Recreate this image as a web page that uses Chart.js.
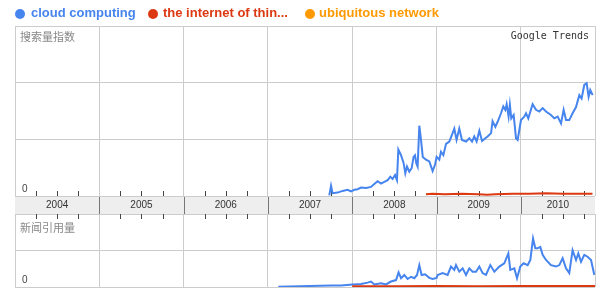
<!DOCTYPE html>
<html>
<head>
<meta charset="utf-8">
<script src="https://cdn.jsdelivr.net/npm/chart.js@4.4.1/dist/chart.umd.min.js"></script>
<style>
  body { margin: 0; background: #fff; width: 599px; height: 289px; overflow: hidden; position: relative;
         font-family: "Liberation Sans", Arial, sans-serif; }
  canvas { position: absolute; left: 0; }
  #searchChart { top: 0; }
  #newsChart { top: 214px; }
  .dot { position: absolute; top: 8.5px; width: 10px; height: 10px; border-radius: 50%; }
  .name { position: absolute; top: 5px; font-size: 13px; line-height: 15px; font-weight: bold; white-space: nowrap; }
  .cn { position: absolute; left: 20px; font-family: "Noto Sans CJK SC", sans-serif; font-size: 11px; line-height: 11px; color: #888; }
  .brand { position: absolute; top: 31px; right: 10px; font-family: "DejaVu Sans Mono", monospace; font-size: 10px; line-height: 10px; color: #333; }
</style>
</head>
<body>
<canvas id="searchChart" width="599" height="214"></canvas>
<canvas id="newsChart" width="599" height="75"></canvas>

<span class="dot" style="left:15px;background:#4684ee"></span>
<span class="name" style="left:31px;color:#4684ee">cloud computing</span>
<span class="dot" style="left:148px;background:#dc3912"></span>
<span class="name" style="left:163px;color:#dc3912">the internet of thin...</span>
<span class="dot" style="left:304.5px;background:#ff9900"></span>
<span class="name" style="left:319px;color:#ff9900">ubiquitous network</span>

<div class="cn" style="top:31px">搜索量指数</div>
<div class="brand">Google Trends</div>
<div class="cn" style="top:222px">新闻引用量</div>

<script>
// years shown in the grey band, axis end (Nov 2010)
const yearLabels = ['2004', '2005', '2006', '2007', '2008', '2009', '2010'];
const xMax = 2010.88;

// search volume index - cloud computing
const searchCloudYear = [2007.728, 2007.749, 2007.767, 2007.827, 2007.886, 2007.945, 2007.986, 2008.025, 2008.064, 2008.104,
  2008.164, 2008.223, 2008.262, 2008.301, 2008.342, 2008.381, 2008.420, 2008.452, 2008.479, 2008.508,
  2008.531, 2008.547, 2008.579, 2008.610, 2008.630, 2008.650, 2008.677, 2008.705, 2008.728, 2008.745,
  2008.760, 2008.776, 2008.796, 2008.816, 2008.837, 2008.875, 2008.915, 2008.954, 2008.982, 2009.001,
  2009.033, 2009.053, 2009.081, 2009.113, 2009.152, 2009.191, 2009.211, 2009.238, 2009.270, 2009.302,
  2009.350, 2009.389, 2009.421, 2009.448, 2009.476, 2009.508, 2009.540, 2009.579, 2009.606, 2009.647,
  2009.665, 2009.698, 2009.725, 2009.765, 2009.792, 2009.816, 2009.832, 2009.855, 2009.870, 2009.887,
  2009.915, 2009.943, 2009.962, 2009.982, 2010.002, 2010.041, 2010.062, 2010.089, 2010.140, 2010.180,
  2010.219, 2010.259, 2010.299, 2010.358, 2010.397, 2010.437, 2010.477, 2010.508, 2010.536, 2010.575,
  2010.614, 2010.655, 2010.694, 2010.721, 2010.753, 2010.781, 2010.804, 2010.824, 2010.852];
const searchCloud = [0.01, 0.18, 0.05, 0.06, 0.09, 0.11, 0.08, 0.11, 0.12, 0.15,
  0.14, 0.16, 0.21, 0.26, 0.22, 0.25, 0.28, 0.34, 0.30, 0.37,
  0.28, 0.82, 0.72, 0.58, 0.40, 0.52, 0.43, 0.49, 0.69, 0.72,
  0.58, 0.52, 1.24, 0.99, 0.69, 0.64, 0.61, 0.44, 0.55, 0.69,
  0.64, 0.78, 0.72, 0.92, 0.96, 1.11, 1.19, 0.99, 1.19, 0.99,
  0.96, 1.02, 0.96, 1.05, 0.96, 1.15, 0.97, 1.02, 1.05, 1.11,
  1.32, 1.22, 1.31, 1.46, 1.58, 1.52, 1.62, 1.40, 1.61, 1.37,
  1.43, 1.02, 0.99, 1.16, 1.34, 1.40, 1.46, 1.37, 1.62, 1.52,
  1.49, 1.55, 1.49, 1.43, 1.37, 1.40, 1.28, 1.52, 1.34, 1.34,
  1.46, 1.57, 1.78, 1.72, 1.96, 1.99, 1.75, 1.87, 1.78];

// search volume index - the internet of things
const searchIotYear = [2008.875, 2008.95, 2009.1, 2009.3, 2009.5, 2009.6, 2009.7, 2009.9, 2010.1, 2010.3, 2010.5, 2010.7, 2010.85];
const searchIot = [0.03, 0.04, 0.03, 0.04, 0.03, 0.02, 0.03, 0.04, 0.04, 0.05, 0.04, 0.04, 0.04];

// news reference volume - cloud computing
const newsCloudYear = [2007.123, 2007.749, 2007.867, 2008.005, 2008.104, 2008.183, 2008.223, 2008.262, 2008.342, 2008.401,
  2008.460, 2008.520, 2008.550, 2008.579, 2008.618, 2008.657, 2008.698, 2008.737, 2008.769, 2008.796,
  2008.823, 2008.864, 2008.915, 2008.954, 2009.001, 2009.013, 2009.072, 2009.132, 2009.172, 2009.211,
  2009.231, 2009.270, 2009.310, 2009.350, 2009.389, 2009.428, 2009.469, 2009.508, 2009.547, 2009.587,
  2009.638, 2009.686, 2009.745, 2009.804, 2009.852, 2009.875, 2009.923, 2009.955, 2009.994, 2010.033,
  2010.081, 2010.113, 2010.145, 2010.172, 2010.199, 2010.231, 2010.259, 2010.299, 2010.358, 2010.418,
  2010.457, 2010.496, 2010.536, 2010.575, 2010.614, 2010.655, 2010.682, 2010.714, 2010.753, 2010.792, 2010.833, 2010.872];
const newsCloud = [0.01, 0.04, 0.04, 0.07, 0.08, 0.12, 0.15, 0.07, 0.10, 0.07,
  0.15, 0.19, 0.40, 0.24, 0.33, 0.22, 0.28, 0.24, 0.33, 0.60,
  0.33, 0.35, 0.25, 0.22, 0.25, 0.33, 0.38, 0.33, 0.56, 0.47,
  0.60, 0.42, 0.51, 0.33, 0.51, 0.42, 0.42, 0.56, 0.38, 0.33,
  0.60, 0.42, 0.56, 0.65, 0.92, 0.47, 0.51, 0.24, 0.56, 0.65,
  0.60, 0.74, 1.33, 1.06, 1.06, 1.10, 0.88, 0.74, 0.60, 0.56,
  0.60, 0.79, 0.51, 0.38, 1.01, 0.74, 0.92, 0.69, 0.88, 0.83, 0.74, 0.33];

// news reference volume - the internet of things
const newsIotYear = [2008.0, 2008.5, 2009.0, 2009.5, 2010.0, 2010.5, 2010.88];
const newsIot = [0.02, 0.02, 0.03, 0.02, 0.03, 0.03, 0.03];

const BLUE = '#4684ee', RED = '#dc3912', ORANGE = '#ff9900';

function points(xs, ys) {
    return xs.map((x, i) => ({ x: x, y: ys[i] }));
}

function lineSet(label, data, color) {
    return { label: label, data: data, borderColor: color, backgroundColor: color,
             borderWidth: 2, pointRadius: 0, tension: 0, fill: false };
}

// year boundary ticks (grid lines) plus mid-year ticks (labels)
function yearTicks(scale, withLabels) {
    const t = [];
    yearLabels.forEach((y) => {
        const start = Number(y);
        const end = Math.min(start + 1, xMax);
        t.push({ value: start, line: true });
        if (withLabels) t.push({ value: (start + end) / 2, year: y });
    });
    t.push({ value: xMax, line: true });
    scale.ticks = t;
}

// small quarter marks next to the band
function quarterPlugin(side) {
    return {
        id: 'quarters',
        beforeDatasetsDraw(chart) {
            const { ctx, chartArea: a, scales: { x } } = chart;
            ctx.save();
            ctx.strokeStyle = '#444';
            ctx.lineWidth = 1;
            ctx.beginPath();
            yearLabels.forEach((y) => {
                [0.25, 0.5, 0.75].forEach((q) => {
                    const v = Number(y) + q;
                    if (v >= xMax) return;
                    const px = Math.round(x.getPixelForValue(v)) + 0.5;
                    if (side === 'bottom') { ctx.moveTo(px, a.bottom - 5); ctx.lineTo(px, a.bottom); }
                    else { ctx.moveTo(px, a.top); ctx.lineTo(px, a.top + 5); }
                });
            });
            ctx.stroke();
            ctx.restore();
        }
    };
}

// grey year band under the search chart
const bandPlugin = {
    id: 'band',
    beforeDraw(chart) {
        const { ctx, chartArea: a } = chart;
        ctx.save();
        ctx.fillStyle = '#eeeeee';
        ctx.fillRect(a.left, a.bottom, a.right - a.left, chart.height - a.bottom);
        ctx.restore();
    },
    afterDraw(chart) {
        const { ctx, chartArea: a, scales: { x } } = chart;
        ctx.save();
        ctx.strokeStyle = '#777';
        ctx.lineWidth = 1;
        ctx.beginPath();
        yearLabels.slice(1).forEach((y) => {
            const px = Math.round(x.getPixelForValue(Number(y))) + 0.5;
            ctx.moveTo(px, a.bottom + 1);
            ctx.lineTo(px, chart.height);
        });
        ctx.stroke();
        ctx.restore();
    }
};

const gridColor = (c) => (c.tick && c.tick.line ? '#cccccc' : 'rgba(0,0,0,0)');
const noPad = (scale) => { scale.paddingTop = 0; scale.paddingBottom = 0; scale.paddingLeft = 0; scale.paddingRight = 0; };

function yAxis(max) {
    return {
        min: 0, max: max,
        afterBuildTicks: (scale) => {
            const t = [];
            for (let v = 0; v <= max; v++) t.push({ value: v });
            scale.ticks = t;
        },
        afterFit: (scale) => { scale.width = 0; noPad(scale); },
        grid: { color: '#cccccc', drawTicks: false },
        border: { display: false },
        ticks: {
            mirror: true, padding: 7, labelOffset: -7,
            color: '#444', font: { family: 'Liberation Sans', size: 10 },
            callback: (v) => (v === 0 ? '0' : '')
        }
    };
}

Chart.defaults.font.family = 'Liberation Sans';

new Chart(document.getElementById('searchChart'), {
    type: 'line',
    data: {
        datasets: [
            lineSet('the internet of things', points(searchIotYear, searchIot), RED),
            lineSet('cloud computing', points(searchCloudYear, searchCloud), BLUE),
            lineSet('ubiquitous network', [], ORANGE)
        ]
    },
    options: {
        responsive: false, animation: false, devicePixelRatio: 1,
        layout: { padding: { left: 15, right: 4, top: 26, bottom: 0 } },
        plugins: { legend: { display: false }, tooltip: { enabled: false } },
        scales: {
            x: {
                type: 'linear', min: 2004, max: xMax,
                afterBuildTicks: (scale) => yearTicks(scale, true),
                afterFit: (scale) => { scale.height = 18; noPad(scale); },
                grid: { color: gridColor, drawTicks: false },
                border: { display: false },
                ticks: {
                    autoSkip: false, maxRotation: 0, padding: 3,
                    color: '#333', font: { size: 10 },
                    callback: (v, i, ticks) => ticks[i].year || ''
                }
            },
            y: yAxis(3)
        }
    },
    plugins: [bandPlugin, quarterPlugin('bottom')]
});

new Chart(document.getElementById('newsChart'), {
    type: 'line',
    data: {
        datasets: [
            lineSet('the internet of things', points(newsIotYear, newsIot), RED),
            lineSet('cloud computing', points(newsCloudYear, newsCloud), BLUE)
        ]
    },
    options: {
        responsive: false, animation: false, devicePixelRatio: 1,
        layout: { padding: { left: 15, right: 4, top: 0, bottom: 2 } },
        plugins: { legend: { display: false }, tooltip: { enabled: false } },
        scales: {
            x: {
                type: 'linear', min: 2004, max: xMax,
                afterBuildTicks: (scale) => yearTicks(scale, false),
                afterFit: noPad,
                grid: { color: gridColor, drawTicks: false },
                border: { display: false },
                ticks: { display: false }
            },
            y: yAxis(2)
        }
    },
    plugins: [quarterPlugin('top')]
});
</script>
</body>
</html>
